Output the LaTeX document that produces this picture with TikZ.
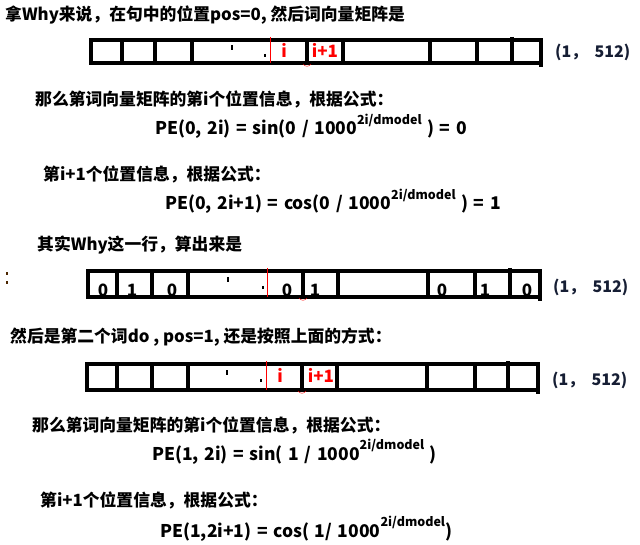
\documentclass[tikz,border=0pt]{standalone}
\usepackage{fontspec}
\setmainfont{Noto Sans CJK SC}
\newfontfamily\formfont{Noto Sans CJK SC}[WordSpace=1.4]
\usepackage{xcolor}
\usetikzlibrary{positioning}
\definecolor{dimtext}{RGB}{22,30,52}
\newcommand{\expo}[1]{\raisebox{0.62em}{\fontsize{12.5}{12}\selectfont #1}}

\begin{document}
\begin{tikzpicture}[x=1pt,y=-1pt,
  txt/.style={anchor=base west,inner sep=0pt,font=\bfseries\fontsize{16.8}{19}\selectfont},
  formula/.style={txt,font=\formfont\bfseries\fontsize{17.5}{19}\selectfont},
  idx/.style={anchor=base,inner sep=0pt,text=red,font=\bfseries\fontsize{17}{19}\selectfont},
  digit/.style={anchor=base,inner sep=0pt,font=\bfseries\fontsize{17}{19}\selectfont},
  dim/.style={anchor=base west,inner sep=0pt,text=dimtext,font=\bfseries\fontsize{16}{18}\selectfont},
  cell/.style={line width=4.4pt},
  rubout/.style={line width=2pt}]
\useasboundingbox (0,0) rectangle (640,545);

% first word: Why, pos=0
\node[txt] (why) at (5,21) {拿Why来说，在句中的位置pos=0, 然后词向量矩阵是};
\draw[cell] (91,40) rectangle (541,63);
\foreach \x in {122,155,192,307,343,430,477} {\draw[cell] (\x,40) -- (\x,63);}
\draw[cell] (512,37) -- (512,63);
\draw[cell] (541,40) -- (541,67);
\draw[red,thin] (270,37) -- (270,63);
\draw[red,thin] (303,64) .. controls (305,67) and (309,67) .. (311,64);
\draw[rubout] (232,45) -- (232,50); \draw[rubout] (265,54) -- (265,57);
\node[idx] (iA) at (284,58) {i};
\node[idx] (ipA) at (325,58) {i+1};
\node[dim] (dimA) at (555,58) {(1，\ \ 512)};

\node[txt] (sinA) at (35,106) {那么第词向量矩阵的第i个位置信息，根据公式：};
\node[formula] (fsinA) at (155,135) {PE(0, 2i) = sin(0 / 1000\expo{2i/dmodel} ) = 0};
\node[txt] (cosA) at (43,181) {第i+1个位置信息，根据公式：};
\node[formula] (fcosA) at (165,210) {PE(0, 2i+1) = cos(0 / 1000\expo{2i/dmodel} ) = 1};

% the whole row of Why
\node[txt] (rowB) at (37,251) {其实Why这一行，算出来是};
\fill[black!70!orange] (6,272) rectangle (8,275);
\fill[black!70!orange] (6,281) rectangle (8,284);
\foreach \x/\d in {103/0,132/1,172/0,287/0,315/1,442/0,485/1,527/0}
  {\node[digit] (d\x) at (\x,297) {\d};}
\draw[cell] (88,271) rectangle (540,297);
\foreach \x in {117,152,188,303,338,428,475} {\draw[cell] (\x,271) -- (\x,297);}
\draw[cell] (510,268) -- (510,297);
\draw[cell] (540,271) -- (540,301);
\draw[red,thin] (267,268) -- (267,297);
\draw[red,thin] (299,298) .. controls (301,301) and (305,301) .. (307,298);
\draw[rubout] (228,277) -- (228,282); \draw[rubout] (263,286) -- (263,289);
\node[dim] (dimB) at (553,293) {(1，\ \ 512)};

% second word: do, pos=1
\node[txt] (doC) at (10,343) {然后是第二个词do , pos=1, 还是按照上面的方式：};
\draw[cell] (87,364) rectangle (538,390);
\foreach \x in {117,152,188,302,337,427,475} {\draw[cell] (\x,364) -- (\x,390);}
\draw[cell] (508,361) -- (508,390);
\draw[cell] (538,364) -- (538,394);
\draw[red,thin] (266,361) -- (266,390);
\draw[red,thin] (298,391) .. controls (300,394) and (304,394) .. (306,391);
\draw[rubout] (227,370) -- (227,375); \draw[rubout] (261,379) -- (261,382);
\node[idx] (iC) at (280,382) {i};
\node[idx] (ipC) at (321,382) {i+1};
\node[dim] (dimC) at (552,385) {(1，\ \ 512)};

\node[txt] (sinC) at (32,431) {那么第词向量矩阵的第i个位置信息，根据公式：};
\node[formula] (fsinC) at (152,460) {PE(1, 2i) = sin( 1 / 1000\expo{2i/dmodel} )};
\node[txt] (cosC) at (40,506) {第i+1个位置信息，根据公式：};
\node[formula] (fcosC) at (160,537) {PE(1,2i+1) = cos( 1/ 1000\expo{2i/dmodel})};
\end{tikzpicture}
\end{document}
